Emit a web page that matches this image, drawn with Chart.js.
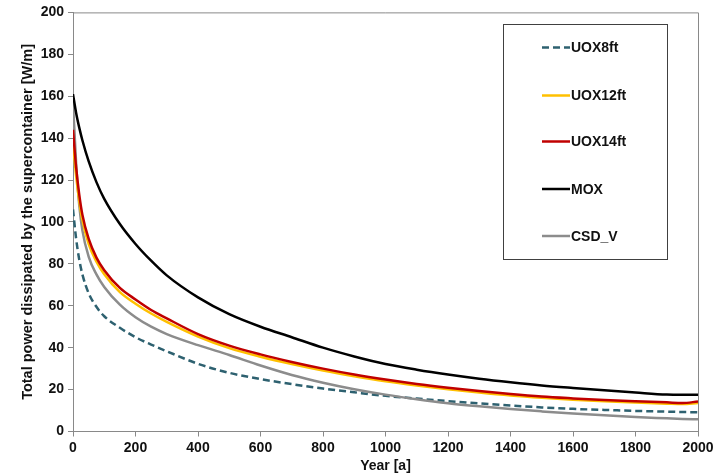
<!DOCTYPE html>
<html>
<head>
<meta charset="utf-8">
<script src="https://cdn.jsdelivr.net/npm/chart.js@4.4.1/dist/chart.umd.min.js"></script>
<style>
  html, body { margin: 0; padding: 0; background: #fff; }
  #wrap { width: 724px; height: 476px; }
</style>
</head>
<body>
<div id="wrap"><canvas id="c" width="724" height="476"></canvas></div>
<script>
/* ─── DATA ─── */
const years = [0, 10, 20, 30, 50, 75, 100, 150, 200, 250, 300, 400, 500, 600, 700, 800, 900, 1000,
  1100, 1200, 1300, 1400, 1500, 1600, 1700, 1800, 1900, 1950, 2000];
const uox8ft  = [106, 92, 82, 75, 66, 59.5, 55, 49.5, 45, 41.5, 38.3, 32.3, 28, 25, 22.6, 20.5, 18.7, 17,
  15.7, 14.5, 13.4, 12.4, 11.5, 10.8, 10.3, 9.8, 9.5, 9.3, 9.2];
const uox12ft = [138, 122, 110, 101, 89.5, 81, 75, 66.5, 61, 56.3, 52.3, 45.3, 39.8, 35.7, 32.2, 29.1, 26.4, 24,
  22, 20.2, 18.6, 17.2, 16.1, 15.2, 14.4, 13.8, 13.3, 13.1, 13.6];
const uox14ft = [144, 126, 113, 103.5, 92, 83, 77, 68.5, 63, 58, 54, 46.5, 41, 36.8, 33.2, 30, 27.2, 24.8,
  22.7, 20.9, 19.3, 17.9, 16.7, 15.8, 15, 14.4, 13.9, 13.6, 14.3];
const mox     = [161, 152, 145, 139, 129, 119, 111, 99, 89.5, 81.5, 74.5, 64, 56, 50, 45, 40, 35.8, 32.2,
  29.5, 27.2, 25.2, 23.5, 22, 20.8, 19.7, 18.6, 17.6, 17.5, 17.5];
const csdV    = [157, 128, 108, 96, 83.5, 75, 69, 60.5, 54.5, 50, 46.5, 41.2, 36.5, 31.5, 27, 23.3, 20.2, 17.6,
  15.4, 13.5, 12, 10.7, 9.6, 8.6, 7.7, 6.9, 6.3, 6, 5.8];
const seriesNames = ['UOX8ft', 'UOX12ft', 'UOX14ft', 'MOX', 'CSD_V'];
const xTicks = { min: 0, max: 2000, step: 200 };
const yTicks = { min: 0, max: 200, step: 20 };

const FONT = "'Liberation Sans', Arial, sans-serif";
const AXIS = '#898989';

const toXY = vals => vals.map((v, i) => ({ x: years[i], y: v }));

const styles = [
  { color: '#2e6170', dash: [7, 4] },
  { color: '#ffc000', dash: [] },
  { color: '#c00000', dash: [] },
  { color: '#000000', dash: [] },
  { color: '#8c8c8c', dash: [] }
];

const datasets = [uox8ft, uox12ft, uox14ft, mox, csdV].map((vals, i) => ({
  label: seriesNames[i],
  data: toXY(vals),
  borderColor: styles[i].color,
  borderDash: styles[i].dash,
  borderWidth: 2.5,
  pointRadius: 0,
  fill: false,
  cubicInterpolationMode: 'monotone'
}));

// draw order: red over yellow, black on top like the original
const order = [0, 4, 1, 2, 3];
order.forEach((d, k) => { datasets[d].order = 5 - k; });

/* ─── frame + inside legend ─── */
const framePlugin = {
  id: 'frame',
  afterDatasetsDraw(chart) {
    const { ctx, chartArea: a } = chart;
    ctx.save();
    ctx.strokeStyle = AXIS;
    ctx.lineWidth = 1;
    ctx.beginPath();
    ctx.moveTo(a.left, a.top + 0.5);
    ctx.lineTo(a.right + 0.5, a.top + 0.5);
    ctx.lineTo(a.right + 0.5, a.bottom);
    ctx.stroke();

    // legend box
    const bx = 503.5, by = 24.5, bw = 164, bh = 235;
    ctx.fillStyle = '#fff';
    ctx.fillRect(bx, by, bw, bh);
    ctx.strokeStyle = '#404040';
    ctx.strokeRect(bx, by, bw, bh);
    const rows = [47.5, 95.5, 141.5, 189, 236];
    ctx.font = 'bold 14px ' + FONT;
    ctx.textBaseline = 'middle';
    chart.data.datasets.forEach((ds, i) => {
      const y = rows[i];
      ctx.strokeStyle = ds.borderColor;
      ctx.lineWidth = 2.5;
      ctx.setLineDash(ds.borderDash || []);
      ctx.beginPath();
      ctx.moveTo(542, y);
      ctx.lineTo(570, y);
      ctx.stroke();
      ctx.setLineDash([]);
      ctx.fillStyle = '#111';
      ctx.fillText(ds.label, 571, y + 1);
    });
    ctx.restore();
  }
};

new Chart(document.getElementById('c'), {
  type: 'line',
  data: { datasets },
  options: {
    responsive: false,
    animation: false,
    layout: { padding: { top: 12, right: 26, left: 0, bottom: 0 } },
    plugins: { legend: { display: false }, tooltip: { enabled: false } },
    scales: {
      x: {
        type: 'linear',
        min: xTicks.min, max: xTicks.max,
        ticks: { stepSize: xTicks.step, color: '#111', padding: 3, callback: v => String(v),
          font: { family: FONT, size: 14, weight: 'bold' } },
        grid: { drawOnChartArea: false, drawTicks: true, tickLength: 5, color: AXIS },
        border: { display: true, color: AXIS },
        title: { display: true, text: 'Year [a]', color: '#111', padding: { top: 0, bottom: 1 },
          font: { family: FONT, size: 14, weight: 'bold' } },
        afterFit(s) { s.height = 44.5; }
      },
      y: {
        min: yTicks.min, max: yTicks.max,
        ticks: { stepSize: yTicks.step, color: '#111', padding: 4, callback: v => String(v),
          font: { family: FONT, size: 14, weight: 'bold' } },
        grid: { drawOnChartArea: false, drawTicks: true, tickLength: 5, color: AXIS },
        border: { display: true, color: AXIS },
        title: { display: true, text: 'Total power dissipated by the supercontainer [W/m]', color: '#111',
          padding: { top: 19, bottom: 0 }, font: { family: FONT, size: 14.5, weight: 'bold' } },
        afterFit(s) { s.width = 73; }
      }
    }
  },
  plugins: [framePlugin]
});
</script>
</body>
</html>
